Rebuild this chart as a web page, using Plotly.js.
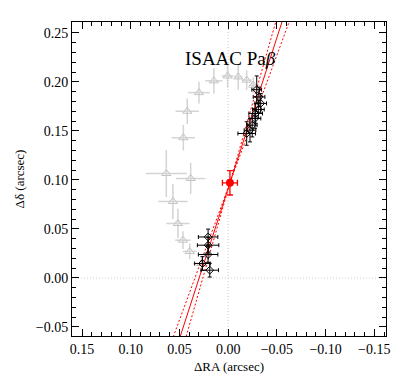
<!DOCTYPE html>
<html>
<head>
<meta charset="utf-8">
<script src="https://cdn.plot.ly/plotly-3.0.1.min.js"></script>
<style>html,body{margin:0;padding:0;background:#fff;}#chart{width:407px;height:379px;}</style>
</head>
<body>
<div id="chart"></div>
<script>
// Gray (earlier epoch) points
var grayRA   = [0.0274, 0.0395, 0.0464, 0.0516, 0.0567, 0.0635, 0.0385, 0.0460, 0.0420, 0.0300, 0.0147, 0.0006, -0.0103, -0.0190, -0.0258];
var grayDec  = [0.0147, 0.0270, 0.0385, 0.0555, 0.0780, 0.1065, 0.1014, 0.1430, 0.1700, 0.1890, 0.2010, 0.2060, 0.2050, 0.2017, 0.1966];
var grayErrRA  = [0.009, 0.007, 0.008, 0.012, 0.015, 0.021, 0.015, 0.012, 0.012, 0.011, 0.009, 0.006, 0.004, 0.005, 0.004];
var grayErrDec = [0.006, 0.008, 0.009, 0.015, 0.018, 0.024, 0.016, 0.013, 0.013, 0.011, 0.013, 0.012, 0.013, 0.010, 0.008];

// Black (ISAAC Pa beta) points
var blackRA  = [-0.0293, -0.0317, -0.0334, -0.0310, -0.0282, -0.0275, -0.0247, -0.0224, -0.0190, 0.0206, 0.0206, 0.0206, 0.0264, 0.0189];
var blackDec = [0.1920, 0.1846, 0.1780, 0.1718, 0.1677, 0.1626, 0.1558, 0.1507, 0.1473, 0.0418, 0.0334, 0.0239, 0.0147, 0.0079];
var blackErrRA  = [0.005, 0.006, 0.006, 0.006, 0.007, 0.006, 0.005, 0.006, 0.009, 0.010, 0.011, 0.010, 0.008, 0.009];
var blackErrDec = [0.014, 0.010, 0.010, 0.009, 0.010, 0.010, 0.012, 0.012, 0.012, 0.008, 0.008, 0.008, 0.007, 0.007];

// Centre (red) point
var centerRA = [-0.0018];
var centerDec = [0.097];
var centerErrRA = [0.0077];
var centerErrDec = [0.0124];

// Fitted line through the centre: best slope and the two bounding slopes
var fitSlopes = [-3.07, -2.70, -3.49];
var fitDash = ['solid', '2px,2px', '2px,2px'];

// Axis tick labels
var xTicks = [0.15, 0.10, 0.05, 0.00, -0.05, -0.10, -0.15];
var yTicks = [-0.05, 0.00, 0.05, 0.10, 0.15, 0.20, 0.25];

var xRange = [0.1603, -0.162];
var yRange = [-0.0592, 0.261];

var traces = [];
traces.push({
  x: grayRA, y: grayDec, mode: 'markers', type: 'scatter',
  marker: {symbol: 'triangle-up-open', size: 8, color: '#c4c4c4', line: {width: 1, color: '#c4c4c4'}},
  error_x: {type: 'data', array: grayErrRA, color: '#d4d4d4', thickness: 1.5, width: 0},
  error_y: {type: 'data', array: grayErrDec, color: '#d4d4d4', thickness: 1.5, width: 0},
  hoverinfo: 'skip'
});
// fit lines
var yLo = yRange[0] - 0.02, yHi = yRange[1] + 0.02;
fitSlopes.forEach(function(s, i) {
  traces.push({
    x: [centerRA[0] + (yLo - centerDec[0]) / s, centerRA[0] + (yHi - centerDec[0]) / s],
    y: [yLo, yHi], mode: 'lines', type: 'scatter',
    line: {color: '#ff0000', width: 1, dash: fitDash[i]},
    hoverinfo: 'skip'
  });
});
traces.push({
  x: blackRA, y: blackDec, mode: 'markers', type: 'scatter',
  marker: {symbol: 'diamond-open', size: 6, color: '#000', line: {width: 1, color: '#000'}},
  error_x: {type: 'data', array: blackErrRA, color: '#000', thickness: 1, width: 2},
  error_y: {type: 'data', array: blackErrDec, color: '#000', thickness: 1, width: 2},
  hoverinfo: 'skip'
});
traces.push({
  x: centerRA, y: centerDec, mode: 'markers', type: 'scatter',
  marker: {symbol: 'circle', size: 8, color: '#ff0000'},
  error_x: {type: 'data', array: centerErrRA, color: '#ff0000', thickness: 1.3, width: 3},
  error_y: {type: 'data', array: centerErrDec, color: '#ff0000', thickness: 1.3, width: 3},
  hoverinfo: 'skip'
});

var font = {family: '"Liberation Serif", "DejaVu Serif", serif', size: 14, color: '#000'};
var axisCommon = {
  showgrid: false, zeroline: false, showline: true, linecolor: '#000', linewidth: 1,
  mirror: 'allticks', ticks: 'inside', ticklen: 7, tickwidth: 1, tickcolor: '#000',
  minor: {dtick: 0.01, ticks: 'inside', ticklen: 4, tickwidth: 1, tickcolor: '#000', showgrid: false},
  tickfont: font, tickformat: '.2f'
};
var layout = {
  width: 407, height: 379,
  margin: {l: 72, r: 21, t: 22, b: 43},
  paper_bgcolor: '#fff', plot_bgcolor: '#fff',
  showlegend: false,
  font: font,
  xaxis: Object.assign({}, axisCommon, {
    range: xRange, tickvals: xTicks, ticktext: xTicks.map(function(v){return (v < 0 ? '\u2212' : '') + Math.abs(v).toFixed(2);}),
    dtick: 0.05, title: {text: '\u0394RA (arcsec)', font: {family: font.family, size: 13, color: '#000'}, standoff: 6}
  }),
  yaxis: Object.assign({}, axisCommon, {
    range: yRange, tickvals: yTicks, ticktext: yTicks.map(function(v){return (v < 0 ? '\u2212' : '') + Math.abs(v).toFixed(2);}),
    dtick: 0.05, title: {text: '\u0394\u03b4 (arcsec)', font: {family: font.family, size: 13, color: '#000'}, standoff: 8}
  }),
  shapes: [
    {type: 'line', xref: 'x', yref: 'paper', x0: 0, x1: 0, y0: 0, y1: 1, line: {color: '#cccccc', width: 1, dash: '1px,2px'}, layer: 'below'},
    {type: 'line', xref: 'paper', yref: 'y', x0: 0, x1: 1, y0: 0, y1: 0, line: {color: '#cccccc', width: 1, dash: '1px,2px'}, layer: 'below'}
  ],
  annotations: [{
    x: 0.505, xref: 'paper', y: 0.2235, yref: 'y', text: 'ISAAC Pa<i>\u03b2</i>', showarrow: false,
    font: {family: font.family, size: 19, color: '#000'}, xanchor: 'center', yanchor: 'middle'
  }]
};
Plotly.newPlot('chart', traces, layout, {displayModeBar: false, staticPlot: true});
</script>
</body>
</html>
